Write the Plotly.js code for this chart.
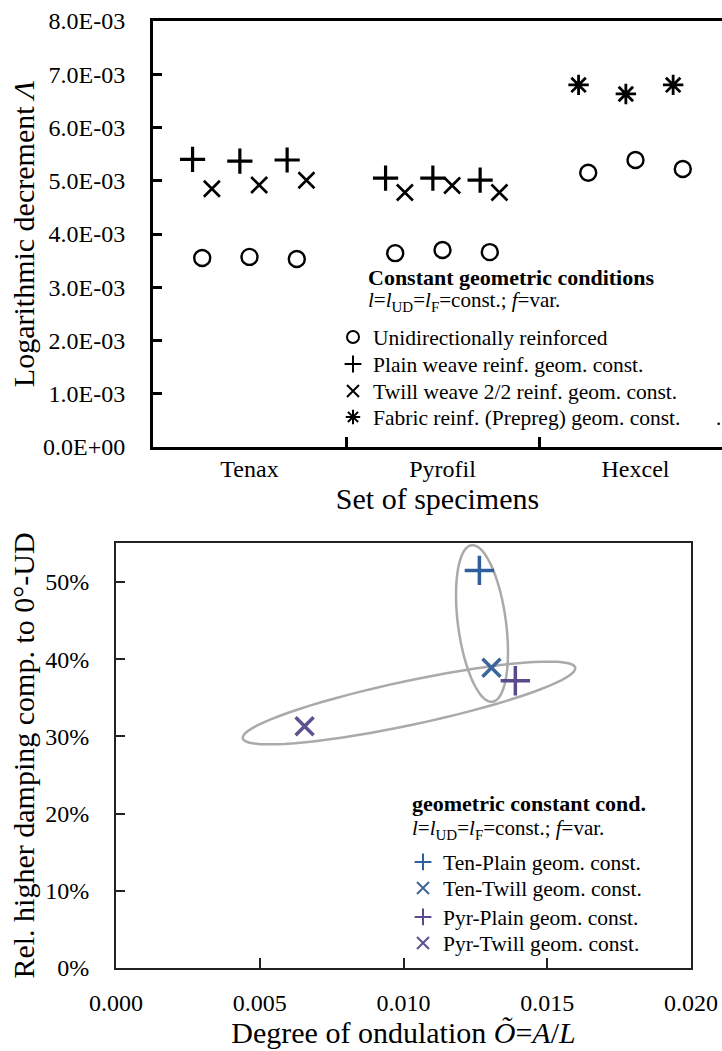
<!DOCTYPE html>
<html>
<head>
<meta charset="utf-8">
<script src="https://cdn.plot.ly/plotly-3.0.1.min.js"></script>
<style>
html,body{margin:0;padding:0;background:#fff;overflow:hidden;}
#chart{width:722px;height:1051px;}
</style>
</head>
<body>
<div id="chart"></div>
<script>
// ---------- data: top chart ----------
const categories = ['Tenax', 'Pyrofil', 'Hexcel'];
const yTickValues = [0, 0.001, 0.002, 0.003, 0.004, 0.005, 0.006, 0.007, 0.008];
const yTickLabels = ['0.0E+00', '1.0E-03', '2.0E-03', '3.0E-03', '4.0E-03', '5.0E-03', '6.0E-03', '7.0E-03', '8.0E-03'];
const topNames = ['Unidirectionally reinforced', 'Plain weave reinf. geom. const.', 'Twill weave 2/2 reinf. geom. const.', 'Fabric reinf. (Prepreg) geom. const.'];
// three specimens per set, per category (Tenax, Pyrofil, Hexcel)
const udValues      = [[0.00355, 0.00357, 0.00353], [0.00364, 0.00370, 0.00366], [0.00515, 0.00539, 0.00522]];
const plainValues   = [[0.00540, 0.00537, 0.00539], [0.00505, 0.00505, 0.00501], []];
const twillValues   = [[0.00485, 0.00492, 0.00501], [0.00478, 0.00491, 0.00478], []];
const prepregValues = [[], [], [0.00680, 0.00663, 0.00680]];

// ---------- data: bottom chart ----------
const seriesNames = ['Ten-Plain geom. const.', 'Ten-Twill geom. const.', 'Pyr-Plain geom. const.', 'Pyr-Twill geom. const.'];
const ondulation = [0.01264, 0.01306, 0.01389, 0.00656];
const relDamping = [0.515, 0.389, 0.372, 0.313];
const xTickValues2 = [0, 0.005, 0.010, 0.015, 0.020];

// ---------- layout geometry (pixels) ----------
const W = 722, H = 1051;
const T = {left: 153, right: 722, top: 21, bottom: 447, catWidth: 193};
const B = {left: 116, right: 691, top: 543, bottom: 968};
const bYMax = 0.5505;
const FONT = 'Liberation Serif, Times New Roman, serif';
const specimenOffset = [-0.245, 0, 0.245];
const topLegendY = [337, 364, 391, 417];
const bottomLegendY = [862, 888, 917, 943];

function pts(values, shift) {
  const x = [], y = [];
  values.forEach((arr, ci) => arr.forEach((v, si) => { x.push(ci + specimenOffset[si] + shift); y.push(v); }));
  return {x, y};
}

const ud = pts(udValues, 0), pl = pts(plainValues, -0.05), tw = pts(twillValues, 0.05), pp = pts(prepregValues, -0.05);
const topSets = [ud, pl, tw, pp];
const topMarkers = [
  {symbol: 'circle-open', size: 16, color: '#000', line: {width: 2.4, color: '#000'}},
  {symbol: 'cross-thin-open', size: 18, color: '#000', line: {width: 3.2, color: '#000'}},
  {symbol: 'x-thin-open', size: 16, color: '#000', line: {width: 2.6, color: '#000'}},
  {symbol: 'asterisk-open', size: 17, color: '#000', line: {width: 2.8, color: '#000'}}
];

const traces = [];
const legends = {};
const legendBase = {bgcolor: 'rgba(0,0,0,0)', borderwidth: 0, itemsizing: 'constant', xanchor: 'left', yanchor: 'middle',
  font: {family: FONT, size: 21.5, color: '#000'}};

topSets.forEach((s, i) => {
  const lg = i === 0 ? 'legend' : 'legend' + (i + 1);
  traces.push({x: s.x, y: s.y, type: 'scatter', mode: 'markers', name: topNames[i], legend: lg, showlegend: true, marker: topMarkers[i]});
  legends[lg] = Object.assign({}, legendBase, {x: 333 / W, y: 1 - topLegendY[i] / H});
});

const bColors = ['#2F5F9A', '#3A6699', '#5B4A8B', '#5E5190'];
const bSymbols = ['cross-thin-open', 'x-thin-open', 'cross-thin-open', 'x-thin-open'];
const bSizes = [21, 18, 21, 18];
seriesNames.forEach((n, i) => {
  const lg = 'legend' + (i + 5);
  traces.push({x: [ondulation[i]], y: [relDamping[i]], xaxis: 'x2', yaxis: 'y2', type: 'scatter', mode: 'markers',
    name: n, legend: lg, showlegend: true,
    marker: {symbol: bSymbols[i], size: bSizes[i], color: bColors[i], line: {width: 3.5, color: bColors[i]}}});
  legends[lg] = Object.assign({}, legendBase, {x: 403 / W, y: 1 - bottomLegendY[i] / H});
});

// ellipse shapes in bottom chart (pixel geometry converted to data coords)
function ellipsePath(cx, cy, a, b, angDeg) {
  const phi = angDeg * Math.PI / 180;
  const ux = Math.cos(phi), uy = Math.sin(phi), vx = -Math.sin(phi), vy = Math.cos(phi);
  let p = '';
  for (let k = 0; k <= 72; k++) {
    const t = k / 72 * 2 * Math.PI;
    const sx = cx + a * Math.cos(t) * ux + b * Math.sin(t) * vx;
    const sy = cy + a * Math.cos(t) * uy + b * Math.sin(t) * vy;
    const xd = (sx - B.left) / (B.right - B.left) * 0.020;
    const yd = (B.bottom - sy) / (B.bottom - B.top) * bYMax;
    p += (k === 0 ? 'M' : 'L') + xd.toFixed(6) + ',' + yd.toFixed(6);
  }
  return p + 'Z';
}

const axisFont = {family: FONT, size: 24, color: '#000'};
const titleFont = {family: FONT, size: 30, color: '#000'};
const subSpan = s => '<span style="font-size:15px;baseline-shift:-5px">' + s + '</span>';
const condLine = '<i>l</i>=<i>l</i>' + subSpan('UD') + '=<i>l</i>' + subSpan('F') + '=const.; <i>f</i>=var.';

const layout = Object.assign({
  width: W, height: H,
  margin: {l: 0, r: 0, t: 0, b: 0},
  showlegend: true,
  paper_bgcolor: '#fff', plot_bgcolor: 'rgba(0,0,0,0)',
  font: {family: FONT, color: '#000'},
  xaxis: {
    domain: [T.left / W, 1], anchor: 'y',
    range: [-0.5, -0.5 + (T.right - T.left) / T.catWidth],
    tickmode: 'array', tickvals: [0, 1, 2], ticktext: categories, ticks: '',
    minor: {tickmode: 'array', tickvals: [0.5, 1.5], ticks: 'inside', ticklen: 10, tickwidth: 3, tickcolor: '#000', showgrid: false},
    showline: true, linewidth: 3, linecolor: '#000', mirror: true,
    showgrid: false, zeroline: false, tickfont: axisFont, ticklabelstandoff: -2,
    title: {text: 'Set of specimens', font: titleFont, standoff: 4}
  },
  yaxis: {
    domain: [1 - T.bottom / H, 1 - T.top / H], anchor: 'x',
    range: [0, 0.008], tickmode: 'array', tickvals: yTickValues, ticktext: yTickLabels,
    ticks: 'inside', ticklen: 9, tickwidth: 3, tickcolor: '#000',
    showline: true, linewidth: 3, linecolor: '#000', mirror: false,
    showgrid: false, zeroline: false, tickfont: axisFont, ticklabelstandoff: 20,
    title: {text: 'Logarithmic decrement <i>Λ</i>', font: titleFont, standoff: 0}
  },
  xaxis2: {
    domain: [B.left / W, B.right / W], anchor: 'y2',
    range: [0, 0.020], tickmode: 'array', tickvals: xTickValues2, tickformat: '.3f',
    ticks: 'inside', ticklen: 10, tickwidth: 2, tickcolor: '#222',
    showline: true, linewidth: 2, linecolor: '#222', mirror: true,
    showgrid: false, zeroline: false, tickfont: axisFont, ticklabelstandoff: 12,
    title: {text: 'Degree of ondulation <i>Õ</i>=<i>A</i>/<i>L</i>', font: titleFont, standoff: 6}
  },
  yaxis2: {
    domain: [1 - B.bottom / H, 1 - B.top / H], anchor: 'x2',
    range: [0, bYMax], dtick: 0.1, tick0: 0, tickformat: '.0%',
    ticks: 'inside', ticklen: 9, tickwidth: 2, tickcolor: '#222',
    showline: true, linewidth: 2, linecolor: '#222', mirror: true,
    showgrid: false, zeroline: false, tickfont: axisFont, ticklabelstandoff: 20,
    title: {text: 'Rel. higher damping comp. to 0°-UD', font: titleFont, standoff: 2}
  },
  annotations: [
    {xref: 'paper', yref: 'paper', x: 366 / W, y: 1 - 277 / H, xanchor: 'left', yanchor: 'middle', showarrow: false,
     text: '<b>Constant geometric conditions</b>', font: {family: FONT, size: 22, color: '#000'}},
    {xref: 'paper', yref: 'paper', x: 366 / W, y: 1 - 301 / H, xanchor: 'left', yanchor: 'middle', showarrow: false,
     text: condLine, font: {family: FONT, size: 21, color: '#000'}},
    {xref: 'paper', yref: 'paper', x: 714 / W, y: 1 - 418 / H, xanchor: 'left', yanchor: 'middle', showarrow: false,
     text: '.', font: {family: FONT, size: 21, color: '#000'}},
    {xref: 'paper', yref: 'paper', x: 410 / W, y: 1 - 803 / H, xanchor: 'left', yanchor: 'middle', showarrow: false,
     text: '<b>geometric constant cond.</b>', font: {family: FONT, size: 22, color: '#000'}},
    {xref: 'paper', yref: 'paper', x: 410 / W, y: 1 - 829 / H, xanchor: 'left', yanchor: 'middle', showarrow: false,
     text: condLine, font: {family: FONT, size: 21, color: '#000'}}
  ],
  shapes: [
    {type: 'path', xref: 'x2', yref: 'y2', path: ellipsePath(482, 623.5, 79, 24, 82.4), line: {color: '#AAAAAA', width: 2.5}, layer: 'below'},
    {type: 'path', xref: 'x2', yref: 'y2', path: ellipsePath(409, 703, 170, 22, -12), line: {color: '#AAAAAA', width: 2.5}, layer: 'below'}
  ]
}, legends);

Plotly.newPlot('chart', traces, layout, {displayModeBar: false, staticPlot: true});
</script>
</body>
</html>
